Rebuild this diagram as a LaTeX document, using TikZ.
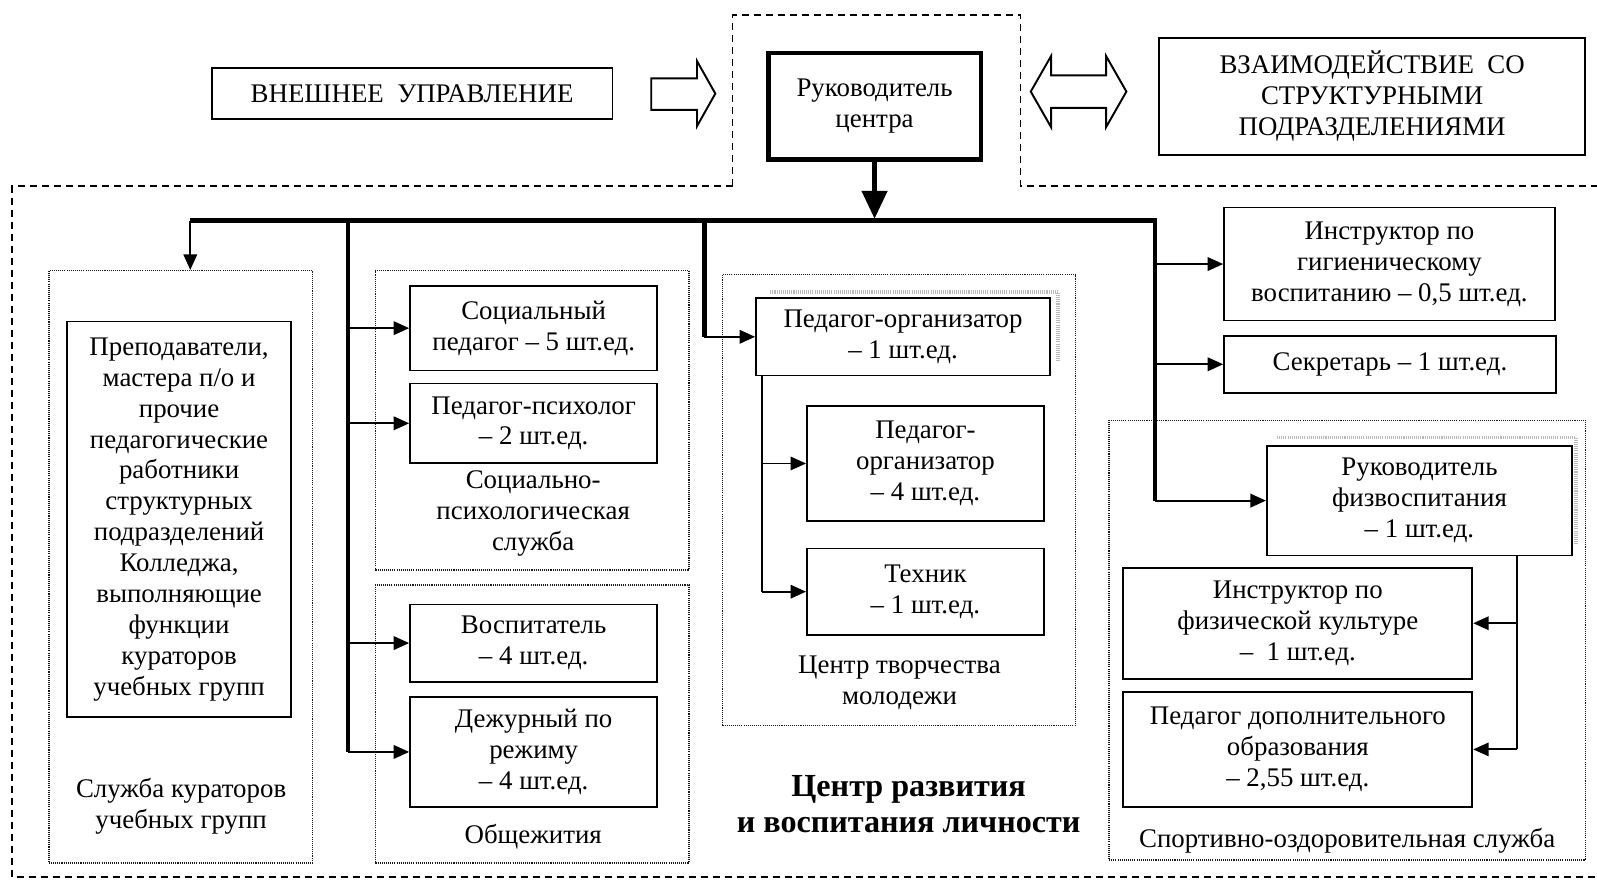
\documentclass[tikz,border=0pt]{standalone}
\usepackage{fontspec}
\setmainfont{Liberation Serif}
\usetikzlibrary{arrows.meta}
\def\pxu{0.02035cm}

\begin{document}
\begin{tikzpicture}[x=\pxu, y=-\pxu,
  every node/.style={font=\fontsize{15.3}{17.6}\selectfont, align=center, inner sep=0pt},
  box/.style={draw, line width=1pt},
  bossbox/.style={draw, line width=2.7pt},
  group/.style={draw=black!90, line width=0.8pt, dash pattern=on 0.6pt off 0.6pt},
  bus/.style={line width=2.7pt, line join=miter},
  link/.style={line width=1.1pt, -{Triangle[length=0.31cm, width=0.27cm]}},
  stem/.style={line width=1.1pt},
  frame/.style={line width=0.9pt, dash pattern=on 0.14cm off 0.1cm},
  hollow/.style={draw, line width=1.1pt, line join=miter},
  shade/.style={gray!55, line width=2pt, dash pattern=on 0.6pt off 0.6pt}]
\useasboundingbox (0,0) rectangle (1569.5,866.8);
%%%%%%%%%%%%%%%%%%%%%%%%%%%%%%%
% outer frame
%%%%%%%%%%%%%%%%%%%%%%%%%%%%%%%
\draw [frame] (720,183) -- (720,15) -- (1003,15) -- (1003,183) -- (1570,183);
\draw [frame] (720,183) -- (12,183) -- (12,862) -- (1570,862);
%
% top row
\node [box, minimum width=394*\pxu, minimum height=50*\pxu] (ext) at (405,92) {ВНЕШНЕЕ\ \ УПРАВЛЕНИЕ};
\node [bossbox, minimum width=209*\pxu, minimum height=105*\pxu] (head) at (859.5,104.5) {Руководитель\\центра};
\node [box, minimum width=419*\pxu, minimum height=115*\pxu] (inter) at (1348.5,94.5) {ВЗАИМОДЕЙСТВИЕ\ \ СО\\СТРУКТУРНЫМИ\\ПОДРАЗДЕЛЕНИЯМИ};
\draw [hollow] (640,77) -- (685,77) -- (685,60) -- (703,92) -- (685,124) -- (685,108) -- (640,108) -- cycle;
\draw [hollow] (1013,90) -- (1033,55) -- (1033,74) -- (1087,74) -- (1087,55) -- (1107,90)
  -- (1087,125) -- (1087,106) -- (1033,106) -- (1033,125) -- cycle;
%
% groups
\node [group, minimum width=259*\pxu, minimum height=582*\pxu] (kurgrp) at (177.5,557) {};
\node [group, minimum width=308*\pxu, minimum height=294*\pxu] (spsgrp) at (523,413) {};
\node [group, minimum width=308*\pxu, minimum height=273*\pxu] (dormgrp) at (523,711.5) {};
\node [group, minimum width=347*\pxu, minimum height=443*\pxu] (ctmgrp) at (883.5,491.5) {};
\node [group, minimum width=468*\pxu, minimum height=432*\pxu] (sportgrp) at (1324,629) {};
%
% left column
\node [box, minimum width=220*\pxu, minimum height=389*\pxu] (kur) at (176,510.5)
  {Преподаватели,\\мастера п/о и\\прочие\\педагогические\\работники\\структурных\\подразделений\\Колледжа,\\выполняющие\\функции\\кураторов\\учебных групп};
\node (kurlbl) at (178,792) {Служба кураторов\\учебных групп};
%
\node [box, minimum width=243*\pxu, minimum height=83*\pxu] (socped) at (524.5,322.5) {Социальный\\педагог – 5 шт.ед.};
\node [box, minimum width=243*\pxu, minimum height=78*\pxu] (psych) at (524.5,416) {Педагог-психолог\\– 2 шт.ед.};
\node (spslbl) at (524,505) {Социально-\\психологическая\\служба};
\node [box, minimum width=243*\pxu, minimum height=76*\pxu] (vosp) at (524.5,632) {Воспитатель\\– 4 шт.ед.};
\node [box, minimum width=243*\pxu, minimum height=108*\pxu] (dezh) at (524.5,739) {Дежурный по\\режиму\\– 4 шт.ед.};
\node (dormlbl) at (524,822) {Общежития};
%
% centre column
\draw [shade] (757,287) -- (1040,287) -- (1040,355);
\node [box, fill=white, minimum width=289*\pxu, minimum height=76*\pxu] (porg1) at (887.5,331) {Педагог-организатор\\– 1 шт.ед.};
\node [box, minimum width=233*\pxu, minimum height=113*\pxu] (porg4) at (909.5,455.5) {Педагог-\\организатор\\– 4 шт.ед.};
\node [box, minimum width=233*\pxu, minimum height=85*\pxu] (tech) at (909.5,581.5) {Техник\\– 1 шт.ед.};
\node (ctmlbl) at (884,671) {Центр творчества\\молодежи};
\node [font=\fontsize{18.3}{20.3}\selectfont\bfseries] (title) at (893,790) {Центр развития\\и воспитания личности};
%
% right column
\node [box, minimum width=325*\pxu, minimum height=111*\pxu] (hyg) at (1365.5,259.5) {Инструктор по\\гигиеническому\\воспитанию – 0,5 шт.ед.};
\node [box, minimum width=326*\pxu, minimum height=56*\pxu] (sekr) at (1366,358) {Секретарь – 1 шт.ед.};
\draw [shade] (1255,430) -- (1549,430) -- (1549,534);
\node [box, fill=white, minimum width=300*\pxu, minimum height=108*\pxu] (rfv) at (1395,492) {Руководитель\\физвоспитания\\– 1 шт.ед.};
\node [box, minimum width=343*\pxu, minimum height=109*\pxu] (ifk) at (1275.5,612.5) {Инструктор по\\физической культуре\\–\ \ 1 шт.ед.};
\node [box, minimum width=343*\pxu, minimum height=113*\pxu] (pdo) at (1275.5,736.5) {Педагог дополнительного\\образования\\– 2,55 шт.ед.};
\node (sportlbl) at (1324,826) {Спортивно-оздоровительная служба};
%%%%%%%%%%%%%%%%%%%%%%%%%%%%%%%
% connectors
%%%%%%%%%%%%%%%%%%%%%%%%%%%%%%%
\coordinate (busL) at (187,217);
\coordinate (busR) at (1135,217);
\coordinate (colA) at (342,217);
\coordinate (colB) at (692,217);
\coordinate (hub) at (859.5,215);
\coordinate (ctmT) at (749,369);
\coordinate (spT) at (1491,546);
%
\draw [bus, -{Triangle[length=0.56cm, width=0.5cm]}] (head.south) -- (hub);
\draw [bus] (busL) -- (busR) -- (busR |- rfv.west);
\draw [bus] (colA) -- (colA |- dezh.west);
\draw [bus] (colB) -- (colB |- porg1.west);
%
\draw [link] (busL) -- (busL |- kurgrp.north);
\draw [link] (colA |- socped.west) -- (socped.west);
\draw [link] (colA |- psych.west) -- (psych.west);
\draw [link] (colA |- vosp.west) -- (vosp.west);
\draw [link] (colA |- dezh.west) -- (dezh.west);
\draw [link] (colB |- porg1.west) -- (porg1.west);
\draw [link] (busR |- hyg.west) -- (hyg.west);
\draw [link] (busR |- sekr.west) -- (sekr.west);
\draw [link] (busR |- rfv.west) -- (rfv.west);
%
\draw [stem] (ctmT) -- (ctmT |- tech.west);
\draw [link] (ctmT |- porg4.west) -- (porg4.west);
\draw [link] (ctmT |- tech.west) -- (tech.west);
%
\draw [stem] (spT) -- (spT |- pdo.east);
\draw [link] (spT |- ifk.east) -- (ifk.east);
\draw [link] (spT |- pdo.east) -- (pdo.east);
%%%%%%%%%%%%%%%%%%%%%%%%%%%%%%%
\end{tikzpicture}
\end{document}
